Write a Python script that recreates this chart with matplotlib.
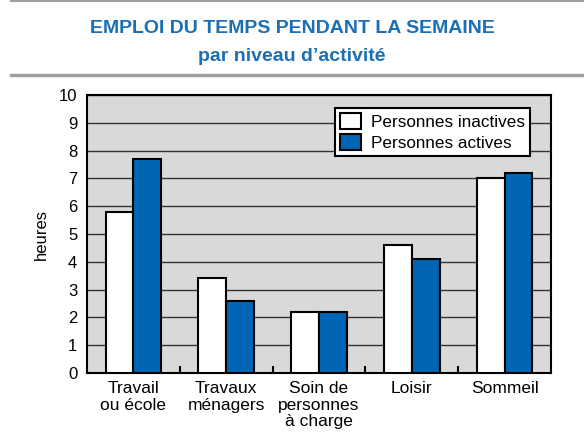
import matplotlib
matplotlib.use("Agg")
import matplotlib.pyplot as plt
import numpy as np
from matplotlib.lines import Line2D

plt.rcParams['font.family'] = ['Liberation Sans', 'DejaVu Sans']

categories = ["Travail\nou école", "Travaux\nménagers", "Soin de\npersonnes\nà charge", "Loisir", "Sommeil"]
inactives = [5.8, 3.4, 2.2, 4.6, 7.0]
actives = [7.7, 2.6, 2.2, 4.1, 7.2]
yticks = list(range(0, 11))

blue = "#0066b3"
title_blue = "#1a6fb5"

fig = plt.figure(figsize=(5.84, 4.38), dpi=100)
ax = fig.add_axes([0.149, 0.1484, 0.7945, 0.6346])
ax.set_facecolor("#d9d9d9")

x = np.arange(len(categories))
w = 0.30
ax.bar(x - w/2, inactives, w, color="white", edgecolor="black", linewidth=1.5, label="Personnes inactives", zorder=3)
ax.bar(x + w/2, actives, w, color=blue, edgecolor="black", linewidth=1.5, label="Personnes actives", zorder=3)

ax.set_xlim(-0.5, len(categories) - 0.5)
ax.set_ylim(0, 10)
ax.set_yticks(yticks)
ax.yaxis.grid(True, color="#333333", linewidth=1.0, zorder=1)
ax.set_axisbelow(True)
ax.tick_params(axis='y', length=0, labelsize=12, pad=7)
ax.set_xticks(x)
ax.set_xticklabels(categories, fontsize=12.5, linespacing=1.12)
ax.tick_params(axis='x', which='major', length=0, pad=6)
ax.set_xticks(np.arange(0.5, len(categories) - 0.5, 1), minor=True)
ax.tick_params(axis='x', which='minor', direction='in', length=5, width=1.5, color='black')
for s in ax.spines.values():
    s.set_linewidth(1.5)
    s.set_color('black')

ax.set_ylabel("heures", fontsize=12, labelpad=7)

leg = ax.legend(loc='upper right', bbox_to_anchor=(0.955, 0.955), fontsize=12.3, frameon=True,
                fancybox=False, edgecolor='black', framealpha=1, handlelength=1.2, handleheight=1.1,
                borderpad=0.3, labelspacing=0.25, handletextpad=0.6, borderaxespad=0)
leg.get_frame().set_linewidth(1.5)

fig.text(0.5, 0.936, "EMPLOI DU TEMPS PENDANT LA SEMAINE", ha='center', va='center',
         fontsize=14, fontweight='bold', color=title_blue)
fig.text(0.5, 0.872, "par niveau d\u2019activité", ha='center', va='center',
         fontsize=14, fontweight='bold', color=title_blue)

fig.add_artist(Line2D([0.018, 1.0], [0.998, 0.998], transform=fig.transFigure, color="#a0a0a0", linewidth=1.5))
fig.add_artist(Line2D([0.018, 1.0], [0.829, 0.829], transform=fig.transFigure, color="#a0a0a0", linewidth=2.5))

fig.savefig("out.png", dpi=100)
